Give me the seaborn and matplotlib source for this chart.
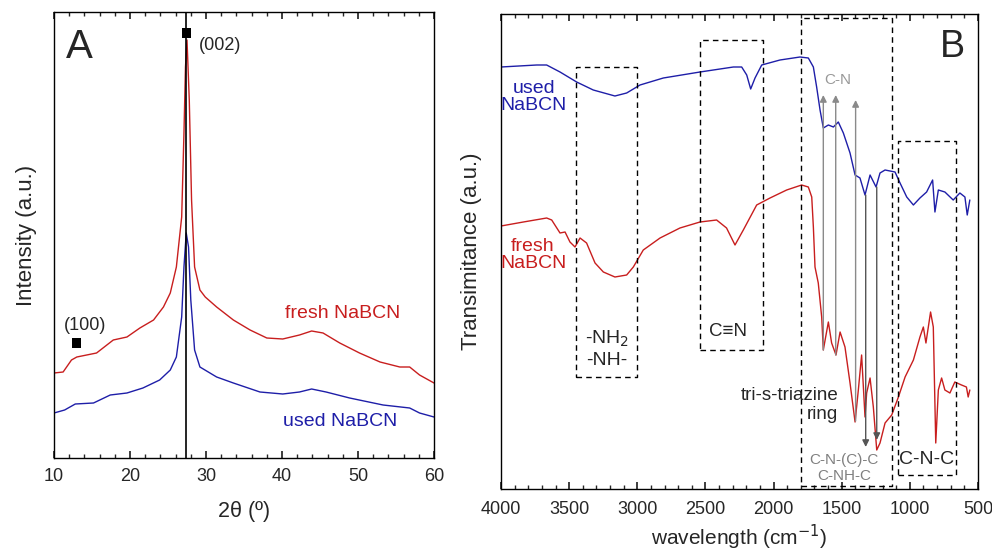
import numpy as np
import pandas as pd
import seaborn as sns
import matplotlib.pyplot as plt
from matplotlib.ticker import MultipleLocator

sns.set_theme(style="ticks")
plt.rcParams['font.family'] = ['Liberation Sans', 'DejaVu Sans']

# ---------------- Panel A data (XRD) ----------------
xrd_fresh_x = [10, 11.2, 12.3, 13, 15.6, 17.8, 19.6, 21.3, 23.1, 24.4, 25.3, 26.1, 26.8, 27.1, 27.3,
               27.5, 27.8, 28.1, 28.5, 29.2, 29.9, 31.4, 33.6, 35.8, 38, 40.1, 42.3, 43.9, 45.4,
               47.6, 50.2, 52.9, 55.5, 56.8, 58.1, 60]
xrd_fresh_y = [85, 86, 98, 101, 105, 118, 121, 130, 138, 151, 165, 191, 241, 325, 391,
               418, 358, 258, 191, 168, 161, 151, 138, 128, 120, 119, 123, 127, 125,
               115, 105, 96, 91, 91, 83, 75]
xrd_used_x = [10, 11.4, 12.8, 15.2, 17.4, 19.6, 21.7, 23.9, 25.3, 26.1, 26.8, 27.1, 27.4, 27.7,
              28, 28.5, 29.2, 31.4, 33.6, 37.1, 40.1, 42.3, 43.9, 45.8, 48.9, 53.3, 56.8, 58.1, 60]
xrd_used_y = [45, 48, 54, 55, 63, 65, 70, 78, 88, 101, 141, 191, 225, 211,
              158, 108, 91, 81, 75, 66, 64, 66, 69, 66, 60, 53, 50, 45, 41]
peak_x = [27.4, 13]
peak_y = [425, 115]
peak_labels = ["(002)", "(100)"]

# ---------------- Panel B data (FTIR) ----------------
ir_used_x = [4000, 3738, 3665, 3567, 3445, 3323, 3164, 3078, 2980, 2809, 2540, 2295, 2234, 2197,
             2168, 2136, 2087, 1953, 1806, 1745, 1708, 1684, 1659, 1635, 1598, 1561, 1525, 1488,
             1439, 1402, 1366, 1329, 1292, 1248, 1219, 1182, 1109, 1072, 1023, 974, 926, 877,
             833, 816, 791, 743, 682, 633, 596, 579, 560]
ir_used_y = [422, 424, 424, 417, 407, 399, 393, 396, 404, 411, 417, 422, 422, 414,
             400, 411, 424, 429, 432, 431, 422, 402, 379, 361, 364, 362, 367, 356,
             336, 314, 311, 294, 314, 302, 316, 319, 317, 306, 292, 284, 291, 297,
             309, 277, 299, 297, 289, 296, 292, 274, 289]
ir_fresh_x = [4000, 3836, 3665, 3628, 3567, 3530, 3494, 3457, 3420, 3372, 3310, 3249, 3164, 3078,
              3029, 2956, 2833, 2687, 2540, 2418, 2345, 2283, 2222, 2124, 2026, 1904, 1794, 1745,
              1720, 1708, 1696, 1672, 1647, 1635, 1598, 1574, 1542, 1512, 1476, 1439, 1402, 1378,
              1354, 1329, 1317, 1292, 1268, 1243, 1219, 1182, 1133, 1084, 1035, 974, 926, 901,
              882, 848, 828, 810, 791, 767, 743, 706, 670, 621, 585, 572, 560]
ir_fresh_y = [263, 267, 271, 269, 256, 257, 247, 242, 251, 246, 226, 217, 212, 214,
              222, 239, 251, 261, 267, 269, 261, 244, 259, 284, 291, 299, 304, 302,
              292, 262, 222, 206, 172, 139, 167, 146, 134, 157, 142, 106, 67, 99,
              134, 72, 96, 111, 82, 39, 46, 66, 74, 92, 112, 129, 152, 162,
              146, 177, 162, 46, 99, 111, 99, 96, 107, 104, 102, 92, 99]

# band boxes: (x_left, x_right, y_bottom, y_top)
box_x0 = [3450, 2540, 1799, 1084]
box_x1 = [3000, 2081, 1133, 661]
box_y0 = [112, 139, 3, 14]
box_y1 = [422, 449, 471, 348]
up_arrow_x = [1635, 1544, 1398]
up_arrow_y0 = [139, 134, 68]
up_arrow_y1 = [394, 394, 389]
down_arrow_x = [1324, 1243]
down_arrow_y0 = [294, 302]
down_arrow_y1 = [42, 49]

RED = "#c81e1e"
BLUE = "#1e1ea8"

fig = plt.figure(figsize=(9.92, 5.57), dpi=100)
axA = fig.add_axes([54/992, 1-458/557, 380/992, 446/557])
axB = fig.add_axes([501/992, 1-489/557, 477/992, 475/557])

# ---------- Panel A ----------
dfA_f = pd.DataFrame({"x": xrd_fresh_x, "y": xrd_fresh_y})
dfA_u = pd.DataFrame({"x": xrd_used_x, "y": xrd_used_y})
sns.lineplot(data=dfA_f, x="x", y="y", ax=axA, color=RED, lw=1.0)
sns.lineplot(data=dfA_u, x="x", y="y", ax=axA, color=BLUE, lw=1.0)
axA.axvline(peak_x[0], color="black", lw=1.2)
sns.scatterplot(x=peak_x, y=peak_y, ax=axA, marker="s", color="black", s=45, edgecolor="none")
axA.text(29.1, 413, peak_labels[0], fontsize=13, ha="left", va="center")
axA.text(14.1, 133, peak_labels[1], fontsize=13, ha="center", va="center")
axA.text(13.4, 411, "A", fontsize=29, ha="center", va="center")
axA.text(48, 145, "fresh NaBCN", fontsize=14, color=RED, ha="center", va="center")
axA.text(47.6, 36, "used NaBCN", fontsize=14, color=BLUE, ha="center", va="center")
axA.set_xlim(10, 60)
axA.set_ylim(0, 446)
axA.set_yticks([])
axA.xaxis.set_major_locator(MultipleLocator(10))
axA.xaxis.set_minor_locator(MultipleLocator(2))
axA.tick_params(axis="x", which="both", direction="in", top=True, labelsize=13, pad=7)
axA.tick_params(axis="x", which="major", length=5)
axA.tick_params(axis="x", which="minor", length=3)
axA.set_xlabel("2θ (º)", fontsize=15.5, labelpad=12)
axA.set_ylabel("Intensity (a.u.)", fontsize=16, labelpad=12)

# ---------- Panel B ----------
dfB_f = pd.DataFrame({"x": ir_fresh_x, "y": ir_fresh_y})
dfB_u = pd.DataFrame({"x": ir_used_x, "y": ir_used_y})
sns.lineplot(data=dfB_u, x="x", y="y", ax=axB, color=BLUE, lw=1.0)
sns.lineplot(data=dfB_f, x="x", y="y", ax=axB, color=RED, lw=1.0)

for x0, x1, y0, y1 in zip(box_x0, box_x1, box_y0, box_y1):
    axB.plot([x0, x1, x1, x0, x0], [y0, y0, y1, y1, y0], color="black", lw=1.0, ls=(0, (4, 3)))

for x, y0, y1 in zip(up_arrow_x, up_arrow_y0, up_arrow_y1):
    axB.annotate("", xy=(x, y1), xytext=(x, y0),
                 arrowprops=dict(arrowstyle="-|>", color="#8a8a8a", lw=1.0, mutation_scale=10,
                                 shrinkA=0, shrinkB=0))
for x, y0, y1 in zip(down_arrow_x, down_arrow_y0, down_arrow_y1):
    axB.annotate("", xy=(x, y1), xytext=(x, y0),
                 arrowprops=dict(arrowstyle="-|>", color="#555555", lw=1.0, mutation_scale=10,
                                 shrinkA=0, shrinkB=0))

axB.text(684, 442, "B", fontsize=27, ha="center", va="center")
axB.text(3758, 392, "used\nNaBCN", fontsize=14, color=BLUE, ha="center", va="center", linespacing=1.05)
axB.text(3765, 234, "fresh\nNaBCN", fontsize=14, color=RED, ha="center", va="center", linespacing=1.05)
axB.text(3222, 140, "-NH$_2$\n-NH-", fontsize=14, ha="center", va="center", linespacing=1.2)
axB.text(2334, 157, "C≡N", fontsize=13.5, ha="center", va="center")
axB.text(1527, 84, "tri-s-triazine\nring", fontsize=13.5, ha="right", va="center", linespacing=1.15)
axB.text(1483, 21, "C-N-(C)-C\nC-NH-C", fontsize=11, color="#808080", ha="center", va="center", linespacing=1.15)
axB.text(874, 30, "C-N-C", fontsize=14, ha="center", va="center")
axB.text(1527, 409, "C-N", fontsize=11, color="#999999", ha="center", va="center")

axB.set_xlim(4000, 500)
axB.set_ylim(0, 475)
axB.set_yticks([])
axB.xaxis.set_major_locator(MultipleLocator(500))
axB.xaxis.set_minor_locator(MultipleLocator(100))
axB.tick_params(axis="x", which="both", direction="in", top=True, labelsize=13, pad=9)
axB.tick_params(axis="x", which="major", length=5)
axB.tick_params(axis="x", which="minor", length=3)
axB.set_xlabel("wavelength (cm$^{-1}$)", fontsize=15, labelpad=3)
axB.set_ylabel("Transimitance (a.u.)", fontsize=16, labelpad=14)

for ax in (axA, axB):
    for s in ax.spines.values():
        s.set_visible(True)
        s.set_linewidth(1.0)
        s.set_color("black")

fig.savefig("out.png", dpi=100)
